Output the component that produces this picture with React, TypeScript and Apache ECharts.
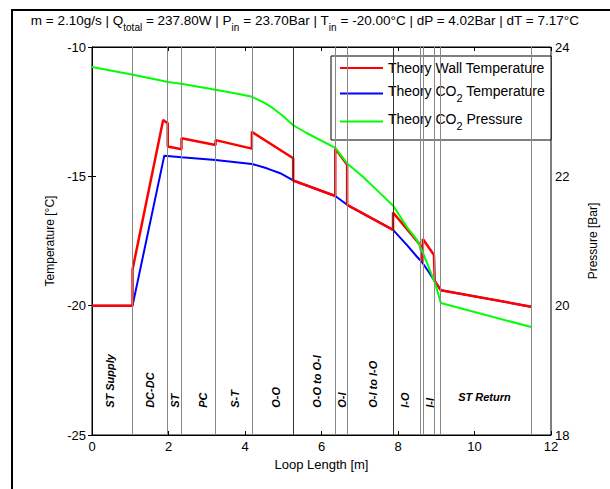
import React, { useEffect, useRef } from "react";
import * as echarts from "echarts";

// Wall temperature (red) [length m, temperature °C]
const wallX = [0, 1.06, 1.06, 1.86, 1.98, 1.98, 2.34, 2.34, 3.23, 3.23, 4.18, 4.18, 5.26, 5.26, 6.36, 6.36, 6.67, 6.67, 7.87, 7.87, 8.58, 8.65, 8.65, 8.94, 8.96, 9.12, 11.48];
const wallT = [-20.0, -20.0, -18.6, -12.82, -12.95, -13.85, -13.95, -13.53, -13.79, -13.6, -13.93, -13.28, -14.3, -15.16, -15.76, -13.92, -14.55, -16.1, -17.07, -16.4, -17.65, -18.3, -17.42, -18.04, -19.05, -19.4, -20.04];

// CO2 temperature (blue)
const co2X = [0, 1.06, 1.89, 2.34, 3.23, 4.18, 4.57, 4.92, 5.26, 6.36, 6.67, 7.87, 8.23, 8.49, 8.62, 8.8, 8.97, 9.12, 11.48];
const co2T = [-20.0, -20.0, -14.2, -14.26, -14.37, -14.52, -14.69, -14.88, -15.16, -15.76, -16.1, -17.07, -17.65, -18.1, -18.3, -18.69, -19.07, -19.4, -20.04];

// CO2 pressure (green) [Bar]
const presX = [0, 1.07, 1.99, 2.33, 3.23, 3.87, 4.18, 4.5, 4.74, 5.0, 5.26, 5.61, 6.36, 6.67, 7.09, 7.53, 7.88, 8.23, 8.49, 8.62, 8.8, 8.97, 9.12, 11.48];
const presP = [23.69, 23.57, 23.46, 23.43, 23.34, 23.27, 23.23, 23.14, 23.05, 22.93, 22.79, 22.67, 22.44, 22.2, 21.99, 21.74, 21.54, 21.22, 21.02, 20.86, 20.6, 20.35, 20.04, 19.67];

// Section boundaries (vertical lines)
const boundaries = [1.06, 1.98, 2.34, 3.23, 4.18, 5.26, 6.37, 6.67, 7.87, 8.58, 8.65, 8.94, 9.11, 11.48];
const darkBoundaries = [5.26, 7.87];

// Section labels
const sectionNames = ["ST Supply", "DC-DC", "ST", "PC", "S-T", "O-O", "O-O to O-I", "O-I", "O-I to I-O", "I-O", "I-I", "ST Return"];
const sectionX = [0.47, 1.52, 2.17, 2.89, 3.73, 4.82, 5.87, 6.54, 7.34, 8.17, 8.84, 10.26];
const sectionY = [-23.95, -23.95, -23.95, -23.95, -23.95, -23.95, -23.95, -23.95, -23.95, -23.95, -23.95, -23.52];
const sectionVertical = [true, true, true, true, true, true, true, true, true, true, true, false];

const seriesNames = ["Theory Wall Temperature", "Theory CO2 Temperature", "Theory CO2 Pressure"];

const FONT = '"Liberation Sans", Arial, Helvetica, sans-serif';

export default function App() {
  const ref = useRef<HTMLDivElement>(null);
  useEffect(() => {
    if (!ref.current) return;
    const chart = echarts.init(ref.current, null, { renderer: "svg" });
    const zip = (xs: number[], ys: number[]) => xs.map((x, i) => [x, ys[i]]);
    const rich = {
      n: { fontSize: 13.5, fontFamily: FONT, fontWeight: "normal", color: "#000", lineHeight: 14, verticalAlign: "top" },
      s: { fontSize: 10, fontFamily: FONT, fontWeight: "normal", color: "#000", lineHeight: 19, verticalAlign: "bottom" },
    };
    const legendRich = {
      n: { fontSize: 14, fontFamily: FONT, color: "#000", lineHeight: 14, verticalAlign: "top" },
      s: { fontSize: 11, fontFamily: FONT, color: "#000", lineHeight: 19, verticalAlign: "bottom" },
    };
    const option: any = {
      animation: false,
      backgroundColor: "#fff",
      title: {
        text:
          "{n|m = 2.10g/s | Q}{s|total}{n| = 237.80W | P}{s|in}{n| = 23.70Bar | T}{s|in}{n| = -20.00°C | dP = 4.02Bar | dT = 7.17°C}",
        left: "center",
        top: 13,
        padding: 0,
        textStyle: { fontWeight: "normal", rich },
      },
      graphic: [
        {
          type: "rect",
          silent: true,
          z: -10,
          shape: { x: 12, y: 10, width: 700, height: 600 },
          style: { fill: "none", stroke: "#000", lineWidth: 2 },
        },
      ],
      legend: {
        orient: "vertical",
        left: 331,
        top: 56,
        padding: [5, 6, 9, 9],
        itemGap: 9,
        itemWidth: 43,
        itemHeight: 2,
        icon: "rect",
        borderColor: "#000",
        borderWidth: 1,
        backgroundColor: "#fff",
        data: seriesNames,
        formatter: (name: string) => {
          const parts = name.split("CO2");
          if (parts.length === 1) return `{n|${name}}`;
          return `{n|${parts[0]}CO}{s|2}{n|${parts[1]}}`;
        },
        textStyle: { rich: legendRich },
      },
      grid: {
        left: 92,
        top: 47,
        width: 459,
        height: 388,
        show: true,
        borderColor: "#000",
        borderWidth: 1,
        backgroundColor: "#fff",
      },
      xAxis: [
        {
          type: "value",
          min: 0,
          max: 12,
          interval: 2,
          position: "bottom",
          name: "Loop Length [m]",
          nameLocation: "middle",
          nameGap: 22,
          nameTextStyle: { fontSize: 13, fontFamily: FONT, color: "#000" },
          axisLine: { lineStyle: { color: "#000", width: 1 } },
          axisTick: { inside: true, length: 4, lineStyle: { color: "#000" } },
          axisLabel: { fontSize: 13, fontFamily: FONT, color: "#000", margin: 5 },
          splitLine: { show: false },
        },
        {
          type: "value",
          min: 0,
          max: 12,
          interval: 2,
          position: "top",
          axisLine: { lineStyle: { color: "#000", width: 1 } },
          axisTick: { inside: true, length: 4, lineStyle: { color: "#000" } },
          axisLabel: { show: false },
          splitLine: { show: false },
        },
      ],
      yAxis: [
        {
          type: "value",
          min: -25,
          max: -10,
          interval: 5,
          position: "left",
          name: "Temperature [°C]",
          nameLocation: "middle",
          nameGap: 34,
          nameRotate: 90,
          nameTextStyle: { fontSize: 12, fontFamily: FONT, color: "#000" },
          axisLine: { show: true, lineStyle: { color: "#000", width: 1 } },
          axisTick: { show: true, inside: true, length: 4, lineStyle: { color: "#000" } },
          axisLabel: { fontSize: 13, fontFamily: FONT, color: "#000", margin: 6 },
          splitLine: { show: false },
        },
        {
          type: "value",
          min: 18,
          max: 24,
          interval: 2,
          position: "right",
          name: "Pressure [Bar]",
          nameLocation: "middle",
          nameGap: 36,
          nameRotate: 90,
          nameTextStyle: { fontSize: 12, fontFamily: FONT, color: "#000" },
          axisLine: { show: true, lineStyle: { color: "#000", width: 1 } },
          axisTick: { show: true, inside: true, length: 4, lineStyle: { color: "#000" } },
          axisLabel: { fontSize: 13, fontFamily: FONT, color: "#000", margin: 4 },
          splitLine: { show: false },
        },
      ],
      series: [
        {
          type: "custom",
          name: "sections",
          xAxisIndex: 0,
          yAxisIndex: 0,
          silent: true,
          z: 1,
          data: sectionX.map((x, i) => [x, sectionY[i]]),
          renderItem: (params: any, api: any) => {
            const p = api.coord([api.value(0), api.value(1)]);
            const i = params.dataIndex;
            const vert = sectionVertical[i];
            return {
              type: "text",
              x: p[0],
              y: p[1],
              rotation: vert ? Math.PI / 2 : 0,
              style: {
                text: sectionNames[i],
                font: `italic bold 11px ${FONT}`,
                fill: "#000",
                align: vert ? "left" : "center",
                verticalAlign: "middle",
              },
            };
          },
          markLine: {
            silent: true,
            symbol: ["none", "none"],
            label: { show: false },
            animation: false,
            data: boundaries.map((b) => ({
              xAxis: b,
              lineStyle: {
                type: "solid",
                width: 1,
                color: darkBoundaries.includes(b) ? "#333" : "#888",
              },
            })),
          },
        },
        {
          name: seriesNames[1],
          type: "line",
          xAxisIndex: 0,
          yAxisIndex: 0,
          data: zip(co2X, co2T),
          showSymbol: false,
          symbol: "none",
          lineStyle: { color: "#0000ff", width: 2 },
          itemStyle: { color: "#0000ff" },
          z: 3,
        },
        {
          name: seriesNames[0],
          type: "line",
          xAxisIndex: 0,
          yAxisIndex: 0,
          data: zip(wallX, wallT),
          showSymbol: false,
          symbol: "none",
          lineStyle: { color: "#ff0000", width: 2.5 },
          itemStyle: { color: "#ff0000" },
          z: 3,
        },
        {
          name: seriesNames[2],
          type: "line",
          xAxisIndex: 0,
          yAxisIndex: 1,
          data: zip(presX, presP),
          showSymbol: false,
          symbol: "none",
          lineStyle: { color: "#00ff00", width: 2 },
          itemStyle: { color: "#00ff00" },
          z: 3,
        },
      ],
    };
    chart.setOption(option);
    return () => chart.dispose();
  }, []);
  return (
    <div
      ref={ref}
      style={{ position: "fixed", left: 0, top: 0, width: 610, height: 489 }}
    />
  );
}
